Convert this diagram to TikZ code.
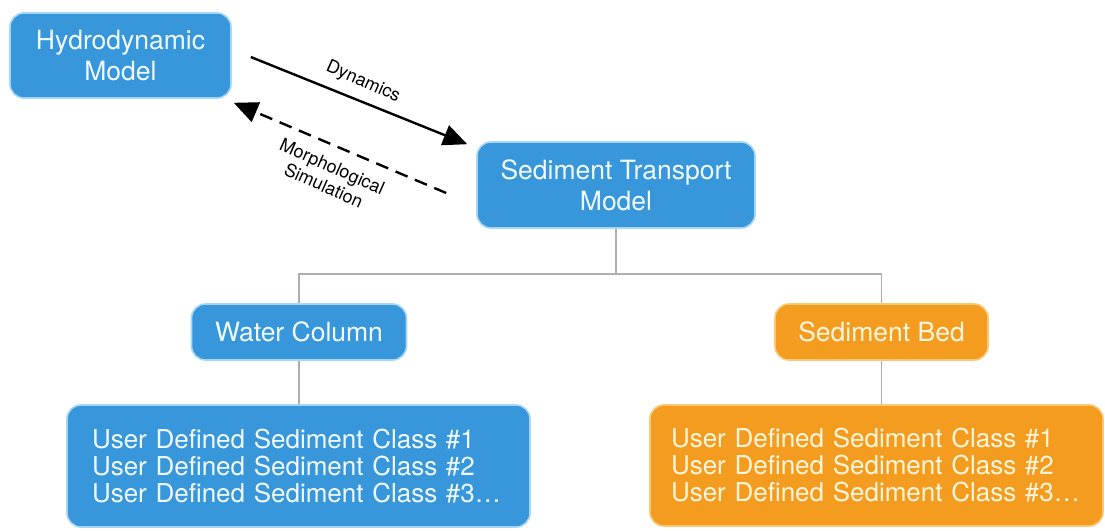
\documentclass[tikz,border=0pt]{standalone}
\usepackage{fontspec}
\setmainfont{TeX Gyre Heros}
\usetikzlibrary{arrows.meta,calc}
\definecolor{boxblue}{HTML}{3896DA}
\definecolor{edgeblue}{HTML}{A6D6F6}
\definecolor{boxorange}{HTML}{F49C1F}
\definecolor{edgeorange}{HTML}{FAC872}
\definecolor{treegray}{HTML}{AEAEAE}
\definecolor{boxtext}{HTML}{F0FAFF}
\definecolor{ortext}{HTML}{FFF6DC}
\begin{document}
\begin{tikzpicture}[x=1pt,y=-1pt,
  modelbox/.style={rounded corners=14pt, line width=1.6pt, text=boxtext,
    align=center, inner sep=0pt, font=\fontsize{26.5}{31}\selectfont},
  bluebox/.style={modelbox, fill=boxblue, draw=edgeblue},
  orangebox/.style={modelbox, fill=boxorange, draw=edgeorange, text=ortext},
  listbox/.style={text width=#1, align=left,
    font=\fontsize{26}{27}\selectfont},
  tree/.style={treegray, line width=1.1pt},
  flow/.style={line width=2.4pt, black, -{Triangle[length=24pt,width=21pt]}},
  flowlabel/.style={font=\fontsize{18}{21}\selectfont, align=center, rotate=-24}
]
\useasboundingbox (0,0) rectangle (1105,530);

% model boxes
\node[bluebox, minimum width=221pt, minimum height=85pt] (hydro) at (120.5,55.5)
  {Hydrodynamic\\Model};
\node[bluebox, minimum width=278pt, minimum height=86pt] (sed) at (616,185)
  {Sediment Transport\\Model};

% compartments
\node[bluebox, minimum width=215pt, minimum height=56pt] (wc) at (299,332)
  {Water Column};
\node[orangebox, minimum width=213pt, minimum height=56pt] (sb) at (881.5,332)
  {Sediment Bed};

% sediment class lists
\node[bluebox, listbox=413pt, inner xsep=25pt, minimum height=122pt] (wcl) at (298.5,466)
  {User Defined Sediment Class \#1\\User Defined Sediment Class \#2\\User Defined Sediment Class \#3\dots};
\node[orangebox, listbox=411pt, inner xsep=21pt, minimum height=121pt] (sbl) at (876.5,465.5)
  {User Defined Sediment Class \#1\\User Defined Sediment Class \#2\\User Defined Sediment Class \#3\dots};

% hierarchy lines
\coordinate (bus) at (616,274);
\draw[tree] (sed.south) -- (bus);
\draw[tree] (wc.north) |- (bus) -| (sb.north);
\draw[tree] (wc.south) -- (wc.south |- wcl.north);
\draw[tree] (sb.south) -- (sb.south |- sbl.north);

% coupling arrows
\draw[flow] ($(hydro.east)+(19,1.5)$) -- ($(sed.north west)+(-9,3)$);
\draw[flow, dash pattern=on 13pt off 8pt] ($(sed.west)+(-30,8)$) -- ($(hydro.south east)+(2,4)$);

% arrow labels
\node[flowlabel] (dynlbl) at (363,82) {Dynamics};
\node[flowlabel] (morlbl) at (328,176) {Morphological\\Simulation};
\end{tikzpicture}
\end{document}
